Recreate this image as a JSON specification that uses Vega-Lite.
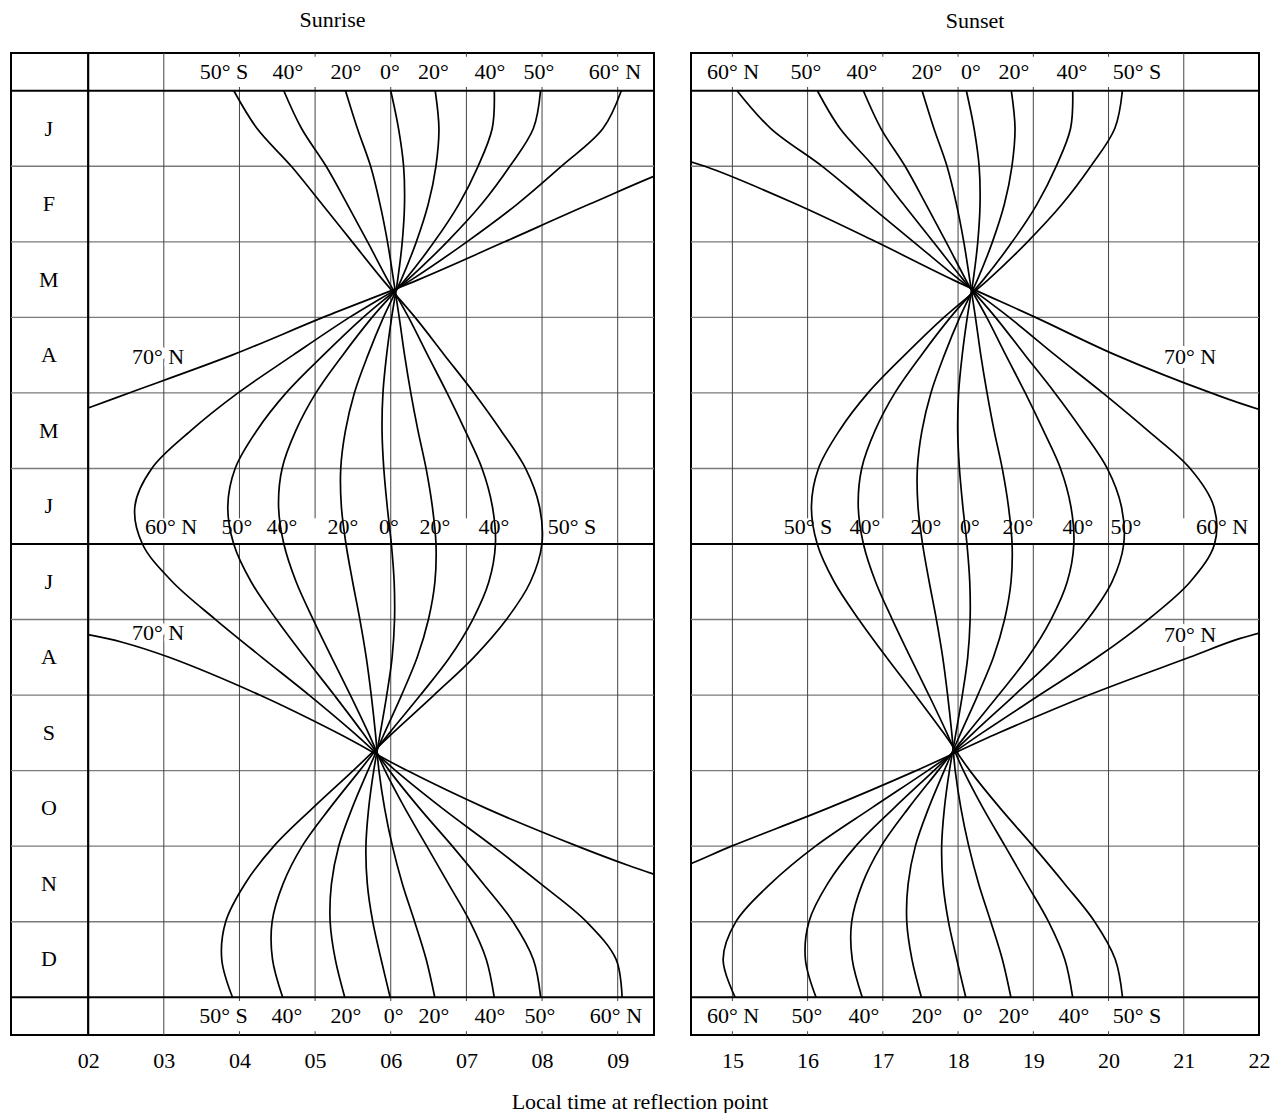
{
  "$schema": "https://vega.github.io/schema/vega-lite/v6.json",
  "padding": {"left": 8, "top": 7, "right": 0, "bottom": 0},
  "config": {
    "view": {"stroke": "black", "strokeWidth": 2},
    "font": "Liberation Serif",
    "title": {"font": "Liberation Serif", "fontSize": 22, "fontWeight": "normal", "color": "black"},
    "text": {"font": "Liberation Serif", "fontSize": 22, "color": "black", "align": "center", "baseline": "middle"},
    "axisX": {"ticks": false, "domain": false, "grid": false, "labelFontSize": 22, "labelFont": "Liberation Serif", "labelColor": "black", "labelPadding": 15, "labelFlush": false, "labelOverlap": false, "labelBound": false}
  },
  "title": {"text": "Local time at reflection point", "orient": "bottom", "anchor": "middle", "offset": 20},
  "spacing": 31,
  "datasets": {
    "hthin": [{"m":1},{"m":2},{"m":3},{"m":4},{"m":5},{"m":7},{"m":8},{"m":9},{"m":10},{"m":11}],
    "hthick": [{"m":0},{"m":6},{"m":12}],
    "v2": [{"t":2}],
    "vL": [
      {"t":3,"m":-0.5,"m2":5.66},{"t":3,"m":6,"m2":12.5},
      {"t":4,"m":0,"m2":5.66},{"t":4,"m":6,"m2":12},
      {"t":5,"m":0,"m2":5.66},{"t":5,"m":6,"m2":12},
      {"t":6,"m":0,"m2":12},
      {"t":7,"m":0,"m2":5.66},{"t":7,"m":6,"m2":12},
      {"t":8,"m":0,"m2":12},
      {"t":9,"m":0,"m2":12},
      {"t":4,"m":-0.5,"m2":-0.45},{"t":4,"m":-0.05,"m2":0},{"t":4,"m":12,"m2":12.05},{"t":4,"m":12.45,"m2":12.5},
      {"t":5,"m":-0.5,"m2":-0.45},{"t":5,"m":-0.05,"m2":0},{"t":5,"m":12,"m2":12.05},{"t":5,"m":12.45,"m2":12.5},
      {"t":6,"m":-0.5,"m2":-0.45},{"t":6,"m":-0.05,"m2":0},{"t":6,"m":12,"m2":12.05},{"t":6,"m":12.45,"m2":12.5},
      {"t":7,"m":-0.5,"m2":-0.45},{"t":7,"m":-0.05,"m2":0},{"t":7,"m":12,"m2":12.05},{"t":7,"m":12.45,"m2":12.5},
      {"t":8,"m":-0.5,"m2":-0.45},{"t":8,"m":-0.05,"m2":0},{"t":8,"m":12,"m2":12.05},{"t":8,"m":12.45,"m2":12.5},
      {"t":9,"m":-0.5,"m2":-0.45},{"t":9,"m":-0.05,"m2":0},{"t":9,"m":12,"m2":12.05},{"t":9,"m":12.45,"m2":12.5}
    ],
    "vR": [
      {"t":15,"m":0,"m2":12},
      {"t":16,"m":0,"m2":5.66},{"t":16,"m":6,"m2":12},
      {"t":17,"m":0,"m2":5.66},{"t":17,"m":6,"m2":12},
      {"t":18,"m":0,"m2":12},
      {"t":19,"m":0,"m2":5.66},{"t":19,"m":6,"m2":12},
      {"t":20,"m":0,"m2":12},
      {"t":21,"m":-0.5,"m2":5.66},{"t":21,"m":6,"m2":12.5},
      {"t":15,"m":-0.5,"m2":-0.45},{"t":15,"m":-0.05,"m2":0},{"t":15,"m":12,"m2":12.05},{"t":15,"m":12.45,"m2":12.5},
      {"t":16,"m":-0.5,"m2":-0.45},{"t":16,"m":-0.05,"m2":0},{"t":16,"m":12,"m2":12.05},{"t":16,"m":12.45,"m2":12.5},
      {"t":17,"m":-0.5,"m2":-0.45},{"t":17,"m":-0.05,"m2":0},{"t":17,"m":12,"m2":12.05},{"t":17,"m":12.45,"m2":12.5},
      {"t":18,"m":-0.5,"m2":-0.45},{"t":18,"m":-0.05,"m2":0},{"t":18,"m":12,"m2":12.05},{"t":18,"m":12.45,"m2":12.5},
      {"t":19,"m":-0.5,"m2":-0.45},{"t":19,"m":-0.05,"m2":0},{"t":19,"m":12,"m2":12.05},{"t":19,"m":12.45,"m2":12.5},
      {"t":20,"m":-0.5,"m2":-0.45},{"t":20,"m":-0.05,"m2":0},{"t":20,"m":12,"m2":12.05},{"t":20,"m":12.45,"m2":12.5}
    ],
    "months": [
      {"m":0.5,"lab":"J"},{"m":1.5,"lab":"F"},{"m":2.5,"lab":"M"},{"m":3.5,"lab":"A"},{"m":4.5,"lab":"M"},{"m":5.5,"lab":"J"},
      {"m":6.5,"lab":"J"},{"m":7.5,"lab":"A"},{"m":8.5,"lab":"S"},{"m":9.5,"lab":"O"},{"m":10.5,"lab":"N"},{"m":11.5,"lab":"D"}
    ],
    "labL": [
      {"t":3.796,"m":-0.25,"lab":"50° S"},{"t":4.642,"m":-0.25,"lab":"40°"},{"t":5.408,"m":-0.25,"lab":"20°"},{"t":5.99,"m":-0.25,"lab":"0°"},
      {"t":6.565,"m":-0.25,"lab":"20°"},{"t":7.312,"m":-0.25,"lab":"40°"},{"t":7.959,"m":-0.25,"lab":"50°"},{"t":8.964,"m":-0.25,"lab":"60° N"},
      {"t":3.79,"m":12.25,"lab":"50° S"},{"t":4.628,"m":12.25,"lab":"40°"},{"t":5.408,"m":12.25,"lab":"20°"},{"t":6.04,"m":12.25,"lab":"0°"},
      {"t":6.572,"m":12.25,"lab":"20°"},{"t":7.312,"m":12.25,"lab":"40°"},{"t":7.973,"m":12.25,"lab":"50°"},{"t":8.977,"m":12.25,"lab":"60° N"},
      {"t":3.095,"m":5.775,"lab":"60° N"},{"t":3.967,"m":5.775,"lab":"50°"},{"t":4.562,"m":5.775,"lab":"40°"},{"t":5.369,"m":5.775,"lab":"20°"},
      {"t":5.977,"m":5.775,"lab":"0°"},{"t":6.585,"m":5.775,"lab":"20°"},{"t":7.365,"m":5.775,"lab":"40°"},{"t":8.396,"m":5.775,"lab":"50° S"}
    ],
    "labR": [
      {"t":15.008,"m":-0.25,"lab":"60° N"},{"t":15.979,"m":-0.25,"lab":"50°"},{"t":16.723,"m":-0.25,"lab":"40°"},{"t":17.587,"m":-0.25,"lab":"20°"},
      {"t":18.172,"m":-0.25,"lab":"0°"},{"t":18.743,"m":-0.25,"lab":"20°"},{"t":19.514,"m":-0.25,"lab":"40°"},{"t":20.379,"m":-0.25,"lab":"50° S"},
      {"t":15.008,"m":12.25,"lab":"60° N"},{"t":15.992,"m":12.25,"lab":"50°"},{"t":16.749,"m":12.25,"lab":"40°"},{"t":17.587,"m":12.25,"lab":"20°"},
      {"t":18.198,"m":12.25,"lab":"0°"},{"t":18.743,"m":12.25,"lab":"20°"},{"t":19.541,"m":12.25,"lab":"40°"},{"t":20.379,"m":12.25,"lab":"50° S"},
      {"t":16.005,"m":5.775,"lab":"50° S"},{"t":16.763,"m":5.775,"lab":"40°"},{"t":17.574,"m":5.775,"lab":"20°"},{"t":18.158,"m":5.775,"lab":"0°"},
      {"t":18.796,"m":5.775,"lab":"20°"},{"t":19.594,"m":5.775,"lab":"40°"},{"t":20.232,"m":5.775,"lab":"50°"},{"t":21.508,"m":5.775,"lab":"60° N"}
    ],
    "lab70L": [{"t":2.923,"m":3.52,"lab":"70° N"},{"t":2.923,"m":7.18,"lab":"70° N"}],
    "lab70R": [{"t":21.083,"m":3.52,"lab":"70° N"},{"t":21.083,"m":7.21,"lab":"70° N"}],
    "rise70": [
      {"l":"a","m":0.75,"t":10.66},{"l":"a","m":1,"t":9.816},{"l":"a","m":1.5,"t":8.63},{"l":"a","m":2,"t":7.505},{"l":"a","m":2.5,"t":6.368},
      {"l":"a","m":3,"t":5.104},{"l":"a","m":3.5,"t":3.901},{"l":"a","m":4,"t":2.541},{"l":"a","m":4.2,"t":2.0},
      {"l":"b","m":7.2,"t":2.0},{"l":"b","m":7.3,"t":2.45},{"l":"b","m":7.5,"t":3.07},{"l":"b","m":8,"t":4.267},{"l":"b","m":8.5,"t":5.291},
      {"l":"b","m":9,"t":6.217},{"l":"b","m":9.5,"t":7.262},{"l":"b","m":10,"t":8.466},{"l":"b","m":10.25,"t":9.126},{"l":"b","m":10.5,"t":9.866}
    ],
    "set70": [
      {"l":"a","m":0.75,"t":13.75},{"l":"a","m":1,"t":14.634},{"l":"a","m":1.5,"t":15.844},{"l":"a","m":2,"t":16.909},{"l":"a","m":2.5,"t":17.926},
      {"l":"a","m":3,"t":19.03},{"l":"a","m":3.5,"t":20.099},{"l":"a","m":4,"t":21.363},{"l":"a","m":4.25,"t":22.12},{"l":"a","m":4.5,"t":23.37},
      {"l":"b","m":7,"t":22.728},{"l":"b","m":7.25,"t":21.751},{"l":"b","m":7.5,"t":21.076},{"l":"b","m":8,"t":19.737},{"l":"b","m":8.5,"t":18.543},
      {"l":"b","m":9,"t":17.443},{"l":"b","m":9.5,"t":16.264},{"l":"b","m":10,"t":14.988},{"l":"b","m":10.25,"t":14.40},{"l":"b","m":10.5,"t":13.624}
    ],
    "rise": [
      {"l":"50S","m":0,"t":3.926},{"l":"50S","m":0.5,"t":4.233},{"l":"50S","m":1,"t":4.686},{"l":"50S","m":1.5,"t":5.090},{"l":"50S","m":2,"t":5.491},{"l":"50S","m":2.5,"t":5.892},{"l":"50S","m":3,"t":6.322},{"l":"50S","m":3.5,"t":6.711},{"l":"50S","m":4,"t":7.101},{"l":"50S","m":4.5,"t":7.459},{"l":"50S","m":5,"t":7.782},{"l":"50S","m":5.5,"t":7.965},{"l":"50S","m":6,"t":7.998},{"l":"50S","m":6.5,"t":7.847},{"l":"50S","m":7,"t":7.529},{"l":"50S","m":7.5,"t":7.098},{"l":"50S","m":8,"t":6.572},{"l":"50S","m":8.5,"t":6.028},{"l":"50S","m":9,"t":5.503},{"l":"50S","m":9.5,"t":4.964},{"l":"50S","m":10,"t":4.455},{"l":"50S","m":10.5,"t":4.072},{"l":"50S","m":11,"t":3.818},{"l":"50S","m":11.5,"t":3.766},{"l":"50S","m":12,"t":3.908},
      {"l":"40S","m":0,"t":4.586},{"l":"40S","m":0.5,"t":4.821},{"l":"40S","m":1,"t":5.146},{"l":"40S","m":1.5,"t":5.424},{"l":"40S","m":2,"t":5.694},{"l":"40S","m":2.5,"t":5.957},{"l":"40S","m":3,"t":6.236},{"l":"40S","m":3.5,"t":6.488},{"l":"40S","m":4,"t":6.744},{"l":"40S","m":4.5,"t":6.984},{"l":"40S","m":5,"t":7.207},{"l":"40S","m":5.5,"t":7.343},{"l":"40S","m":6,"t":7.384},{"l":"40S","m":6.5,"t":7.297},{"l":"40S","m":7,"t":7.084},{"l":"40S","m":7.5,"t":6.780},{"l":"40S","m":8,"t":6.392},{"l":"40S","m":8.5,"t":5.984},{"l":"40S","m":9,"t":5.589},{"l":"40S","m":9.5,"t":5.192},{"l":"40S","m":10,"t":4.829},{"l":"40S","m":10.5,"t":4.576},{"l":"40S","m":11,"t":4.432},{"l":"40S","m":11.5,"t":4.437},{"l":"40S","m":12,"t":4.571},
      {"l":"20S","m":0,"t":5.402},{"l":"20S","m":0.5,"t":5.559},{"l":"20S","m":1,"t":5.734},{"l":"20S","m":1.5,"t":5.858},{"l":"20S","m":2,"t":5.957},{"l":"20S","m":2.5,"t":6.036},{"l":"20S","m":3,"t":6.112},{"l":"20S","m":3.5,"t":6.183},{"l":"20S","m":4,"t":6.265},{"l":"20S","m":4.5,"t":6.360},{"l":"20S","m":5,"t":6.467},{"l":"20S","m":5.5,"t":6.549},{"l":"20S","m":6,"t":6.598},{"l":"20S","m":6.5,"t":6.584},{"l":"20S","m":7,"t":6.498},{"l":"20S","m":7.5,"t":6.350},{"l":"20S","m":8,"t":6.143},{"l":"20S","m":8.5,"t":5.918},{"l":"20S","m":9,"t":5.698},{"l":"20S","m":9.5,"t":5.488},{"l":"20S","m":10,"t":5.312},{"l":"20S","m":10.5,"t":5.216},{"l":"20S","m":11,"t":5.199},{"l":"20S","m":11.5,"t":5.267},{"l":"20S","m":12,"t":5.392},
      {"l":"0","m":0,"t":6.000},{"l":"0","m":0.5,"t":6.103},{"l":"0","m":1,"t":6.170},{"l":"0","m":1.5,"t":6.182},{"l":"0","m":2,"t":6.152},{"l":"0","m":2.5,"t":6.092},{"l":"0","m":3,"t":6.012},{"l":"0","m":3.5,"t":5.945},{"l":"0","m":4,"t":5.897},{"l":"0","m":4.5,"t":5.885},{"l":"0","m":5,"t":5.908},{"l":"0","m":5.5,"t":5.953},{"l":"0","m":6,"t":6.008},{"l":"0","m":6.5,"t":6.045},{"l":"0","m":7,"t":6.050},{"l":"0","m":7.5,"t":6.018},{"l":"0","m":8,"t":5.947},{"l":"0","m":8.5,"t":5.862},{"l":"0","m":9,"t":5.775},{"l":"0","m":9.5,"t":5.708},{"l":"0","m":10,"t":5.672},{"l":"0","m":10.5,"t":5.690},{"l":"0","m":11,"t":5.762},{"l":"0","m":11.5,"t":5.873},{"l":"0","m":12,"t":5.992},
      {"l":"20N","m":0,"t":6.588},{"l":"20N","m":0.5,"t":6.637},{"l":"20N","m":1,"t":6.597},{"l":"20N","m":1.5,"t":6.496},{"l":"20N","m":2,"t":6.338},{"l":"20N","m":2.5,"t":6.139},{"l":"20N","m":3,"t":5.903},{"l":"20N","m":3.5,"t":5.698},{"l":"20N","m":4,"t":5.519},{"l":"20N","m":4.5,"t":5.401},{"l":"20N","m":5,"t":5.339},{"l":"20N","m":5.5,"t":5.347},{"l":"20N","m":6,"t":5.408},{"l":"20N","m":6.5,"t":5.496},{"l":"20N","m":7,"t":5.592},{"l":"20N","m":7.5,"t":5.676},{"l":"20N","m":8,"t":5.742},{"l":"20N","m":8.5,"t":5.797},{"l":"20N","m":9,"t":5.844},{"l":"20N","m":9.5,"t":5.919},{"l":"20N","m":10,"t":6.022},{"l":"20N","m":10.5,"t":6.154},{"l":"20N","m":11,"t":6.316},{"l":"20N","m":11.5,"t":6.469},{"l":"20N","m":12,"t":6.582},
      {"l":"40N","m":0,"t":7.369},{"l":"40N","m":0.5,"t":7.341},{"l":"40N","m":1,"t":7.154},{"l":"40N","m":1.5,"t":6.902},{"l":"40N","m":2,"t":6.574},{"l":"40N","m":2.5,"t":6.192},{"l":"40N","m":3,"t":5.753},{"l":"40N","m":3.5,"t":5.365},{"l":"40N","m":4,"t":5.011},{"l":"40N","m":4.5,"t":4.745},{"l":"40N","m":5,"t":4.564},{"l":"40N","m":5.5,"t":4.517},{"l":"40N","m":6,"t":4.587},{"l":"40N","m":6.5,"t":4.749},{"l":"40N","m":7,"t":4.975},{"l":"40N","m":7.5,"t":5.218},{"l":"40N","m":8,"t":5.466},{"l":"40N","m":8.5,"t":5.704},{"l":"40N","m":9,"t":5.925},{"l":"40N","m":9.5,"t":6.188},{"l":"40N","m":10,"t":6.476},{"l":"40N","m":10.5,"t":6.763},{"l":"40N","m":11,"t":7.048},{"l":"40N","m":11.5,"t":7.263},{"l":"40N","m":12,"t":7.368},
      {"l":"50N","m":0,"t":7.980},{"l":"50N","m":0.5,"t":7.885},{"l":"50N","m":1,"t":7.574},{"l":"50N","m":1.5,"t":7.202},{"l":"50N","m":2,"t":6.745},{"l":"50N","m":2.5,"t":6.226},{"l":"50N","m":3,"t":5.636},{"l":"50N","m":3.5,"t":5.109},{"l":"50N","m":4,"t":4.617},{"l":"50N","m":4.5,"t":4.228},{"l":"50N","m":5,"t":3.943},{"l":"50N","m":5.5,"t":3.846},{"l":"50N","m":6,"t":3.924},{"l":"50N","m":6.5,"t":4.154},{"l":"50N","m":7,"t":4.490},{"l":"50N","m":7.5,"t":4.864},{"l":"50N","m":8,"t":5.253},{"l":"50N","m":8.5,"t":5.630},{"l":"50N","m":9,"t":5.981},{"l":"50N","m":9.5,"t":6.382},{"l":"50N","m":10,"t":6.814},{"l":"50N","m":10.5,"t":7.226},{"l":"50N","m":11,"t":7.616},{"l":"50N","m":11.5,"t":7.885},{"l":"50N","m":12,"t":7.982},
      {"l":"60N","m":0,"t":9.048},{"l":"60N","m":0.5,"t":8.805},{"l":"60N","m":1,"t":8.255},{"l":"60N","m":1.5,"t":7.673},{"l":"60N","m":2,"t":7.006},{"l":"60N","m":2.5,"t":6.277},{"l":"60N","m":3,"t":5.454},{"l":"60N","m":3.5,"t":4.708},{"l":"60N","m":4,"t":3.981},{"l":"60N","m":4.5,"t":3.357},{"l":"60N","m":5,"t":2.841},{"l":"60N","m":5.5,"t":2.618},{"l":"60N","m":6,"t":2.717},{"l":"60N","m":6.5,"t":3.113},{"l":"60N","m":7,"t":3.684},{"l":"60N","m":7.5,"t":4.296},{"l":"60N","m":8,"t":4.921},{"l":"60N","m":8.5,"t":5.514},{"l":"60N","m":9,"t":6.064},{"l":"60N","m":9.5,"t":6.683},{"l":"60N","m":10,"t":7.349},{"l":"60N","m":10.5,"t":7.985},{"l":"60N","m":11,"t":8.587},{"l":"60N","m":11.5,"t":8.979},{"l":"60N","m":12,"t":9.058}
    ],
    "set": [
      {"l":"60N","m":0,"t":15.062},{"l":"60N","m":0.5,"t":15.511},{"l":"60N","m":1,"t":16.195},{"l":"60N","m":1.5,"t":16.801},{"l":"60N","m":2,"t":17.408},{"l":"60N","m":2.5,"t":18.017},{"l":"60N","m":3,"t":18.680},{"l":"60N","m":3.5,"t":19.292},{"l":"60N","m":4,"t":19.923},{"l":"60N","m":4.5,"t":20.523},{"l":"60N","m":5,"t":21.085},{"l":"60N","m":5.5,"t":21.398},{"l":"60N","m":6,"t":21.409},{"l":"60N","m":6.5,"t":21.087},{"l":"60N","m":7,"t":20.526},{"l":"60N","m":7.5,"t":19.850},{"l":"60N","m":8,"t":19.083},{"l":"60N","m":8.5,"t":18.320},{"l":"60N","m":9,"t":17.596},{"l":"60N","m":9.5,"t":16.843},{"l":"60N","m":10,"t":16.105},{"l":"60N","m":10.5,"t":15.505},{"l":"60N","m":11,"t":15.047},{"l":"60N","m":11.5,"t":14.877},{"l":"60N","m":12,"t":15.036},
      {"l":"50N","m":0,"t":16.130},{"l":"50N","m":0.5,"t":16.431},{"l":"50N","m":1,"t":16.876},{"l":"50N","m":1.5,"t":17.272},{"l":"50N","m":2,"t":17.669},{"l":"50N","m":2.5,"t":18.068},{"l":"50N","m":3,"t":18.498},{"l":"50N","m":3.5,"t":18.891},{"l":"50N","m":4,"t":19.287},{"l":"50N","m":4.5,"t":19.652},{"l":"50N","m":5,"t":19.983},{"l":"50N","m":5.5,"t":20.170},{"l":"50N","m":6,"t":20.202},{"l":"50N","m":6.5,"t":20.046},{"l":"50N","m":7,"t":19.720},{"l":"50N","m":7.5,"t":19.282},{"l":"50N","m":8,"t":18.751},{"l":"50N","m":8.5,"t":18.204},{"l":"50N","m":9,"t":17.679},{"l":"50N","m":9.5,"t":17.144},{"l":"50N","m":10,"t":16.640},{"l":"50N","m":10.5,"t":16.264},{"l":"50N","m":11,"t":16.018},{"l":"50N","m":11.5,"t":15.971},{"l":"50N","m":12,"t":16.112},
      {"l":"40N","m":0,"t":16.741},{"l":"40N","m":0.5,"t":16.975},{"l":"40N","m":1,"t":17.296},{"l":"40N","m":1.5,"t":17.572},{"l":"40N","m":2,"t":17.840},{"l":"40N","m":2.5,"t":18.102},{"l":"40N","m":3,"t":18.381},{"l":"40N","m":3.5,"t":18.635},{"l":"40N","m":4,"t":18.893},{"l":"40N","m":4.5,"t":19.135},{"l":"40N","m":5,"t":19.362},{"l":"40N","m":5.5,"t":19.499},{"l":"40N","m":6,"t":19.539},{"l":"40N","m":6.5,"t":19.451},{"l":"40N","m":7,"t":19.235},{"l":"40N","m":7.5,"t":18.928},{"l":"40N","m":8,"t":18.538},{"l":"40N","m":8.5,"t":18.130},{"l":"40N","m":9,"t":17.735},{"l":"40N","m":9.5,"t":17.338},{"l":"40N","m":10,"t":16.978},{"l":"40N","m":10.5,"t":16.727},{"l":"40N","m":11,"t":16.586},{"l":"40N","m":11.5,"t":16.593},{"l":"40N","m":12,"t":16.726},
      {"l":"20N","m":0,"t":17.522},{"l":"20N","m":0.5,"t":17.679},{"l":"20N","m":1,"t":17.853},{"l":"20N","m":1.5,"t":17.978},{"l":"20N","m":2,"t":18.076},{"l":"20N","m":2.5,"t":18.155},{"l":"20N","m":3,"t":18.231},{"l":"20N","m":3.5,"t":18.302},{"l":"20N","m":4,"t":18.385},{"l":"20N","m":4.5,"t":18.479},{"l":"20N","m":5,"t":18.587},{"l":"20N","m":5.5,"t":18.669},{"l":"20N","m":6,"t":18.718},{"l":"20N","m":6.5,"t":18.704},{"l":"20N","m":7,"t":18.618},{"l":"20N","m":7.5,"t":18.470},{"l":"20N","m":8,"t":18.262},{"l":"20N","m":8.5,"t":18.037},{"l":"20N","m":9,"t":17.816},{"l":"20N","m":9.5,"t":17.607},{"l":"20N","m":10,"t":17.432},{"l":"20N","m":10.5,"t":17.336},{"l":"20N","m":11,"t":17.318},{"l":"20N","m":11.5,"t":17.387},{"l":"20N","m":12,"t":17.512},
      {"l":"0","m":0,"t":18.110},{"l":"0","m":0.5,"t":18.213},{"l":"0","m":1,"t":18.280},{"l":"0","m":1.5,"t":18.292},{"l":"0","m":2,"t":18.262},{"l":"0","m":2.5,"t":18.202},{"l":"0","m":3,"t":18.122},{"l":"0","m":3.5,"t":18.055},{"l":"0","m":4,"t":18.007},{"l":"0","m":4.5,"t":17.995},{"l":"0","m":5,"t":18.018},{"l":"0","m":5.5,"t":18.063},{"l":"0","m":6,"t":18.118},{"l":"0","m":6.5,"t":18.155},{"l":"0","m":7,"t":18.160},{"l":"0","m":7.5,"t":18.128},{"l":"0","m":8,"t":18.057},{"l":"0","m":8.5,"t":17.972},{"l":"0","m":9,"t":17.885},{"l":"0","m":9.5,"t":17.818},{"l":"0","m":10,"t":17.782},{"l":"0","m":10.5,"t":17.800},{"l":"0","m":11,"t":17.872},{"l":"0","m":11.5,"t":17.983},{"l":"0","m":12,"t":18.102},
      {"l":"20S","m":0,"t":18.708},{"l":"20S","m":0.5,"t":18.757},{"l":"20S","m":1,"t":18.716},{"l":"20S","m":1.5,"t":18.616},{"l":"20S","m":2,"t":18.457},{"l":"20S","m":2.5,"t":18.258},{"l":"20S","m":3,"t":18.022},{"l":"20S","m":3.5,"t":17.817},{"l":"20S","m":4,"t":17.639},{"l":"20S","m":4.5,"t":17.520},{"l":"20S","m":5,"t":17.459},{"l":"20S","m":5.5,"t":17.467},{"l":"20S","m":6,"t":17.528},{"l":"20S","m":6.5,"t":17.616},{"l":"20S","m":7,"t":17.712},{"l":"20S","m":7.5,"t":17.796},{"l":"20S","m":8,"t":17.861},{"l":"20S","m":8.5,"t":17.916},{"l":"20S","m":9,"t":17.962},{"l":"20S","m":9.5,"t":18.038},{"l":"20S","m":10,"t":18.142},{"l":"20S","m":10.5,"t":18.274},{"l":"20S","m":11,"t":18.435},{"l":"20S","m":11.5,"t":18.589},{"l":"20S","m":12,"t":18.702},
      {"l":"40S","m":0,"t":19.524},{"l":"40S","m":0.5,"t":19.495},{"l":"40S","m":1,"t":19.304},{"l":"40S","m":1.5,"t":19.050},{"l":"40S","m":2,"t":18.720},{"l":"40S","m":2.5,"t":18.337},{"l":"40S","m":3,"t":17.898},{"l":"40S","m":3.5,"t":17.512},{"l":"40S","m":4,"t":17.160},{"l":"40S","m":4.5,"t":16.896},{"l":"40S","m":5,"t":16.719},{"l":"40S","m":5.5,"t":16.673},{"l":"40S","m":6,"t":16.742},{"l":"40S","m":6.5,"t":16.903},{"l":"40S","m":7,"t":17.126},{"l":"40S","m":7.5,"t":17.366},{"l":"40S","m":8,"t":17.612},{"l":"40S","m":8.5,"t":17.850},{"l":"40S","m":9,"t":18.071},{"l":"40S","m":9.5,"t":18.334},{"l":"40S","m":10,"t":18.625},{"l":"40S","m":10.5,"t":18.914},{"l":"40S","m":11,"t":19.202},{"l":"40S","m":11.5,"t":19.419},{"l":"40S","m":12,"t":19.523},
      {"l":"50S","m":0,"t":20.184},{"l":"50S","m":0.5,"t":20.083},{"l":"50S","m":1,"t":19.764},{"l":"50S","m":1.5,"t":19.384},{"l":"50S","m":2,"t":18.923},{"l":"50S","m":2.5,"t":18.402},{"l":"50S","m":3,"t":17.812},{"l":"50S","m":3.5,"t":17.289},{"l":"50S","m":4,"t":16.803},{"l":"50S","m":4.5,"t":16.421},{"l":"50S","m":5,"t":16.144},{"l":"50S","m":5.5,"t":16.051},{"l":"50S","m":6,"t":16.128},{"l":"50S","m":6.5,"t":16.353},{"l":"50S","m":7,"t":16.681},{"l":"50S","m":7.5,"t":17.048},{"l":"50S","m":8,"t":17.432},{"l":"50S","m":8.5,"t":17.806},{"l":"50S","m":9,"t":18.157},{"l":"50S","m":9.5,"t":18.562},{"l":"50S","m":10,"t":18.999},{"l":"50S","m":10.5,"t":19.418},{"l":"50S","m":11,"t":19.816},{"l":"50S","m":11.5,"t":20.090},{"l":"50S","m":12,"t":20.186}
    ]
  },
  "hconcat": [
    {
      "width": 643, "height": 982,
      "title": {"text": "Sunrise", "offset": 20, "anchor": "middle"},
      "layer": [
        {"data": {"name": "hthin"}, "mark": {"type": "rule", "color": "#7a7a7a", "strokeWidth": 1.4},
         "encoding": {"y": {"field": "m", "type": "quantitative", "scale": {"domain": [-0.5, 12.5], "reverse": true, "nice": false, "zero": false}, "axis": null}}},
        {"data": {"name": "vL"}, "mark": {"type": "rule", "color": "#444", "strokeWidth": 1},
         "encoding": {"x": {"field": "t", "type": "quantitative", "scale": {"domain": [0.98, 9.48], "nice": false, "zero": false},
                            "axis": {"orient": "bottom", "values": [2,3,4,5,6,7,8,9], "labelExpr": "'0' + datum.value", "title": null}},
                      "y": {"field": "m", "type": "quantitative", "axis": null}, "y2": {"field": "m2"}}},
        {"data": {"name": "lab70L"}, "mark": {"type": "text", "color": "white", "stroke": "white", "strokeWidth": 9, "strokeJoin": "round"},
         "encoding": {"x": {"field": "t", "type": "quantitative", "axis": {"orient": "bottom", "values": [2,3,4,5,6,7,8,9], "labelExpr": "'0' + datum.value", "title": null}},
                      "y": {"field": "m", "type": "quantitative", "axis": null}, "text": {"field": "lab"}}},
        {"data": {"name": "hthick"}, "mark": {"type": "rule", "color": "black", "strokeWidth": 2.2},
         "encoding": {"y": {"field": "m", "type": "quantitative", "axis": null}}},
        {"data": {"name": "v2"}, "mark": {"type": "rule", "color": "black", "strokeWidth": 2.2},
         "encoding": {"x": {"field": "t", "type": "quantitative", "axis": {"orient": "bottom", "values": [2,3,4,5,6,7,8,9], "labelExpr": "'0' + datum.value", "title": null}}}},
        {"data": {"name": "rise"}, "mark": {"type": "line", "interpolate": "catmull-rom", "color": "black", "strokeWidth": 1.7, "clip": true},
         "encoding": {"x": {"field": "t", "type": "quantitative", "axis": {"orient": "bottom", "values": [2,3,4,5,6,7,8,9], "labelExpr": "'0' + datum.value", "title": null}},
                      "y": {"field": "m", "type": "quantitative", "axis": null},
                      "detail": {"field": "l"}, "order": {"field": "m", "type": "quantitative"}}},
        {"data": {"name": "rise70"}, "mark": {"type": "line", "interpolate": "catmull-rom", "color": "black", "strokeWidth": 1.7, "clip": true},
         "encoding": {"x": {"field": "t", "type": "quantitative", "axis": {"orient": "bottom", "values": [2,3,4,5,6,7,8,9], "labelExpr": "'0' + datum.value", "title": null}},
                      "y": {"field": "m", "type": "quantitative", "axis": null},
                      "detail": {"field": "l"}, "order": {"field": "m", "type": "quantitative"}}},
        {"data": {"name": "labL"}, "mark": {"type": "text"},
         "encoding": {"x": {"field": "t", "type": "quantitative", "axis": {"orient": "bottom", "values": [2,3,4,5,6,7,8,9], "labelExpr": "'0' + datum.value", "title": null}},
                      "y": {"field": "m", "type": "quantitative", "axis": null}, "text": {"field": "lab"}}},
        {"data": {"name": "lab70L"}, "mark": {"type": "text"},
         "encoding": {"x": {"field": "t", "type": "quantitative", "axis": {"orient": "bottom", "values": [2,3,4,5,6,7,8,9], "labelExpr": "'0' + datum.value", "title": null}},
                      "y": {"field": "m", "type": "quantitative", "axis": null}, "text": {"field": "lab"}}},
        {"data": {"name": "months"}, "mark": {"type": "text"},
         "encoding": {"x": {"datum": 1.48, "type": "quantitative", "axis": {"orient": "bottom", "values": [2,3,4,5,6,7,8,9], "labelExpr": "'0' + datum.value", "title": null}},
                      "y": {"field": "m", "type": "quantitative", "axis": null}, "text": {"field": "lab"}}}
      ]
    },
    {
      "width": 568, "height": 982,
      "title": {"text": "Sunset", "offset": 20, "anchor": "middle"},
      "layer": [
        {"data": {"name": "hthin"}, "mark": {"type": "rule", "color": "#7a7a7a", "strokeWidth": 1.4},
         "encoding": {"y": {"field": "m", "type": "quantitative", "scale": {"domain": [-0.5, 12.5], "reverse": true, "nice": false, "zero": false}, "axis": null}}},
        {"data": {"name": "vR"}, "mark": {"type": "rule", "color": "#444", "strokeWidth": 1},
         "encoding": {"x": {"field": "t", "type": "quantitative", "scale": {"domain": [14.45, 22], "nice": false, "zero": false},
                            "axis": {"orient": "bottom", "values": [15,16,17,18,19,20,21,22], "format": "d", "title": null}},
                      "y": {"field": "m", "type": "quantitative", "axis": null}, "y2": {"field": "m2"}}},
        {"data": {"name": "lab70R"}, "mark": {"type": "text", "color": "white", "stroke": "white", "strokeWidth": 9, "strokeJoin": "round"},
         "encoding": {"x": {"field": "t", "type": "quantitative", "axis": {"orient": "bottom", "values": [15,16,17,18,19,20,21,22], "format": "d", "title": null}},
                      "y": {"field": "m", "type": "quantitative", "axis": null}, "text": {"field": "lab"}}},
        {"data": {"name": "hthick"}, "mark": {"type": "rule", "color": "black", "strokeWidth": 2.2},
         "encoding": {"y": {"field": "m", "type": "quantitative", "axis": null}}},
        {"data": {"name": "set"}, "mark": {"type": "line", "interpolate": "catmull-rom", "color": "black", "strokeWidth": 1.7, "clip": true},
         "encoding": {"x": {"field": "t", "type": "quantitative", "axis": {"orient": "bottom", "values": [15,16,17,18,19,20,21,22], "format": "d", "title": null}},
                      "y": {"field": "m", "type": "quantitative", "axis": null},
                      "detail": {"field": "l"}, "order": {"field": "m", "type": "quantitative"}}},
        {"data": {"name": "set70"}, "mark": {"type": "line", "interpolate": "catmull-rom", "color": "black", "strokeWidth": 1.7, "clip": true},
         "encoding": {"x": {"field": "t", "type": "quantitative", "axis": {"orient": "bottom", "values": [15,16,17,18,19,20,21,22], "format": "d", "title": null}},
                      "y": {"field": "m", "type": "quantitative", "axis": null},
                      "detail": {"field": "l"}, "order": {"field": "m", "type": "quantitative"}}},
        {"data": {"name": "labR"}, "mark": {"type": "text"},
         "encoding": {"x": {"field": "t", "type": "quantitative", "axis": {"orient": "bottom", "values": [15,16,17,18,19,20,21,22], "format": "d", "title": null}},
                      "y": {"field": "m", "type": "quantitative", "axis": null}, "text": {"field": "lab"}}},
        {"data": {"name": "lab70R"}, "mark": {"type": "text"},
         "encoding": {"x": {"field": "t", "type": "quantitative", "axis": {"orient": "bottom", "values": [15,16,17,18,19,20,21,22], "format": "d", "title": null}},
                      "y": {"field": "m", "type": "quantitative", "axis": null}, "text": {"field": "lab"}}}
      ]
    }
  ]
}
